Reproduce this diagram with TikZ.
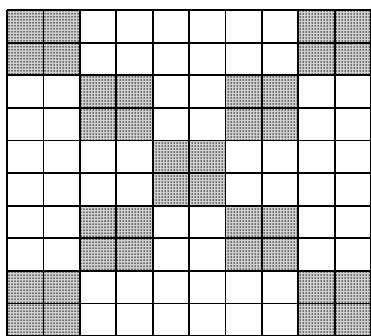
\documentclass[tikz,border=0pt]{standalone}
\usetikzlibrary{patterns.meta}

\begin{document}
\begin{tikzpicture}[x=1pt, y=-1pt,
    cell/.style={fill=black!18, postaction={pattern={Dots[distance=3pt, radius=0.75pt]}, pattern color=black}},
    gridline/.style={line width=1.8pt, black}]
  \useasboundingbox (0,0) rectangle (371,335);
  \clip (0,0) rectangle (371,335);
  % dotted 2x2 blocks
  \foreach \c/\r in {0/0, 8/0, 2/2, 6/2, 4/4, 2/6, 6/6, 0/8, 8/8}
    \fill[cell] ({7+36.4*\c},{10+32.6*\r}) rectangle ++(72.8,65.2);
  % the grid
  \foreach \i in {0,...,10} {
    \draw[gridline] ({7+36.4*\i},10) -- ({7+36.4*\i},337);
    \draw[gridline] (7,{10+32.6*\i}) -- (372,{10+32.6*\i});
  }
\end{tikzpicture}
\end{document}
